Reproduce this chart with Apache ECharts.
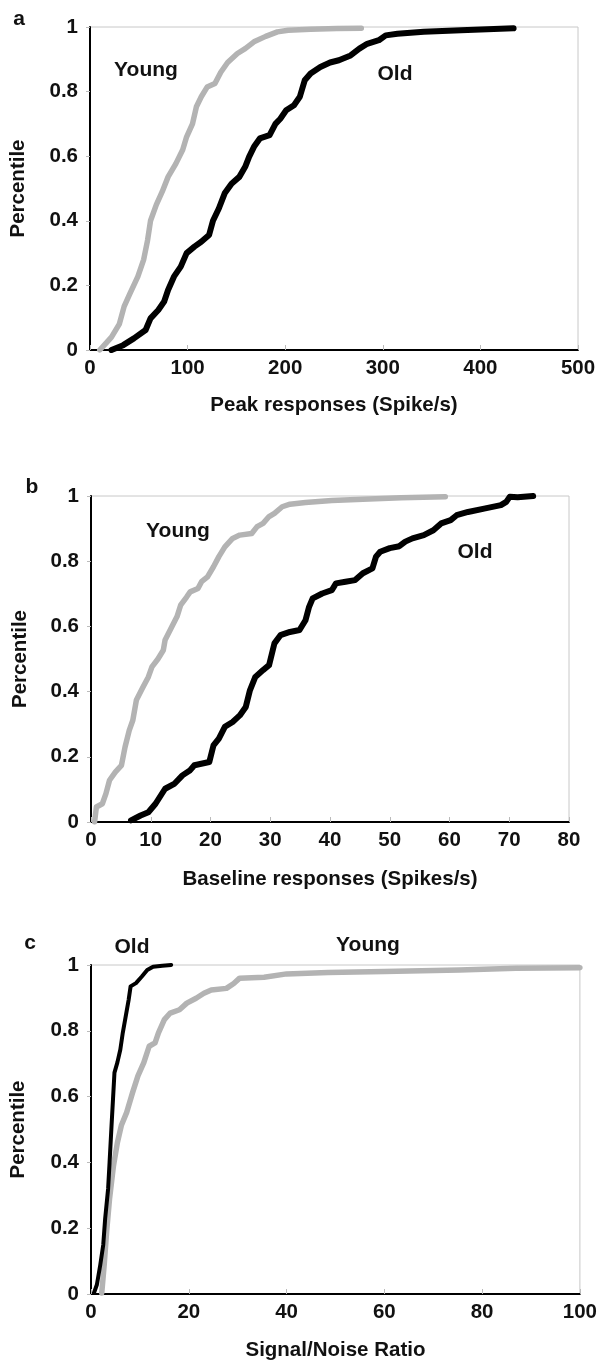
<!DOCTYPE html>
<html><head><meta charset="utf-8">
<script src="https://cdn.jsdelivr.net/npm/echarts@6/dist/echarts.min.js"></script>
<style>html,body{margin:0;padding:0;background:#fff}#c{width:600px;height:1362px}</style>
</head><body><div id="c"></div>
<script>
// ---- data (x value, cumulative fraction) ----
const peakYoung = [[10,0],[16,0.02],[22,0.04],[30,0.08],[35,0.135],[41,0.175],[49,0.227],[55,0.28],[59,0.34],[62,0.40],[68,0.45],[74,0.49],[80,0.536],[88,0.577],[95,0.62],[99,0.66],[105,0.70],[109,0.753],[114,0.784],[120,0.814],[128,0.825],[134,0.86],[141,0.89],[151,0.918],[159,0.933],[168,0.954],[180,0.971],[192,0.985],[203,0.99],[226,0.993],[253,0.995],[278,0.996]];
const peakOld = [[22,0],[34,0.015],[45,0.036],[57,0.062],[62,0.098],[70,0.124],[76,0.15],[80,0.186],[86,0.227],[93,0.258],[99,0.30],[107,0.32],[114,0.335],[122,0.356],[126,0.40],[132,0.438],[138,0.485],[145,0.515],[153,0.536],[159,0.567],[163,0.598],[168,0.629],[174,0.655],[184,0.665],[190,0.70],[195,0.716],[201,0.742],[209,0.758],[215,0.784],[220,0.835],[226,0.856],[236,0.876],[246,0.89],[255,0.897],[267,0.912],[276,0.933],[284,0.948],[296,0.959],[303,0.974],[315,0.979],[342,0.985],[380,0.99],[434,0.996]];
const baseYoung = [[0.6,0],[0.9,0.046],[1.9,0.056],[2.5,0.087],[3.1,0.128],[4.1,0.154],[5.1,0.174],[5.7,0.23],[6.4,0.281],[7.0,0.312],[7.6,0.374],[8.6,0.41],[9.6,0.445],[10.2,0.476],[11.2,0.50],[12.1,0.527],[12.4,0.558],[13.4,0.594],[14.4,0.63],[15.0,0.665],[16.0,0.69],[16.6,0.706],[17.9,0.716],[18.5,0.737],[19.5,0.752],[20.5,0.783],[21.4,0.814],[22.4,0.844],[23.7,0.87],[24.9,0.88],[26.9,0.885],[27.8,0.906],[28.8,0.916],[29.8,0.937],[30.7,0.947],[32.0,0.967],[33.3,0.975],[35.9,0.98],[40.3,0.986],[45.5,0.99],[51.9,0.995],[59.3,0.998]];
const baseOld = [[6.7,0.005],[8.3,0.02],[9.6,0.03],[10.8,0.056],[12.4,0.102],[14.0,0.118],[15.3,0.143],[16.6,0.159],[17.3,0.174],[19.8,0.184],[20.5,0.235],[21.4,0.256],[22.4,0.292],[23.7,0.307],[24.9,0.327],[25.9,0.353],[26.6,0.404],[27.5,0.445],[28.8,0.466],[29.8,0.481],[30.7,0.548],[31.7,0.573],[33.3,0.583],[34.9,0.589],[35.9,0.619],[36.5,0.66],[37.1,0.686],[38.7,0.701],[40.3,0.711],[41.0,0.732],[42.6,0.737],[44.2,0.742],[45.5,0.763],[47.1,0.778],[47.7,0.814],[48.4,0.829],[50.0,0.84],[51.6,0.846],[52.6,0.86],[53.8,0.87],[55.7,0.88],[57.3,0.895],[58.6,0.916],[60.2,0.926],[61.2,0.941],[63.1,0.951],[66.0,0.962],[68.6,0.972],[69.5,0.982],[70.1,0.998],[71.4,0.996],[74.0,1.0]];
const snrOld = [[0.6,0.003],[1.2,0.028],[1.9,0.089],[2.5,0.149],[2.9,0.23],[3.5,0.32],[3.8,0.40],[4.2,0.512],[4.5,0.592],[4.8,0.673],[5.4,0.704],[6.0,0.743],[6.5,0.794],[7.1,0.844],[7.7,0.894],[8.1,0.935],[9.2,0.945],[10.4,0.965],[11.5,0.985],[12.7,0.995],[14.6,0.998],[16.4,1.0]];
const snrYoung = [[2.2,0.003],[2.7,0.089],[3.2,0.19],[3.8,0.29],[4.6,0.39],[5.4,0.46],[6.2,0.512],[7.3,0.552],[8.5,0.612],[9.6,0.663],[10.8,0.703],[11.9,0.753],[13.1,0.763],[13.8,0.794],[15.0,0.834],[16.2,0.854],[18.1,0.864],[19.6,0.884],[21.5,0.899],[23.1,0.914],[24.6,0.924],[27.7,0.929],[29.2,0.944],[30.4,0.96],[35.4,0.963],[40.0,0.973],[48.5,0.977],[60.0,0.98],[75.4,0.985],[86.9,0.99],[100,0.992]];
const xTitles = ['Peak responses (Spike/s)','Baseline responses (Spikes/s)','Signal/Noise Ratio'];
const yTitle = 'Percentile';
const xMax = [500, 80, 100];
const xStep = [100, 10, 20];
const panelLetters = ['a','b','c'];

const FONT = '"Liberation Sans", Arial, sans-serif';
const grids = [
  {left:82, top:27, width:496, height:323},
  {left:91, top:496, width:478, height:326},
  {left:84, top:965, width:498, height:331}
];
const yGaps = [61, 60, 62];
const xGaps = [45, 47, 46];
const chart = echarts.init(document.getElementById('c'), null, {renderer:'canvas'});
const txt = {fontFamily:FONT, fontWeight:'bold', fontSize:20.5, color:'#111'};

const option = {
  animation:false,
  backgroundColor:'#fff',
  grid: grids.map(g => Object.assign({show:true, borderColor:'#c8c8c8', borderWidth:1, backgroundColor:'transparent'}, g)),
  xAxis: grids.map((g,i) => ({
    type:'value', gridIndex:i, min:0, max:xMax[i], interval:xStep[i],
    name:xTitles[i], nameLocation:'middle', nameGap:xGaps[i],
    nameTextStyle:Object.assign({}, txt),
    axisLine:{show:true, onZero:false, lineStyle:{color:'#000', width:2}},
    axisTick:{show:true, inside:true, length:5, lineStyle:{color:'#bbb', width:1}},
    axisLabel:Object.assign({margin:8}, txt),
    splitLine:{show:false}
  })),
  yAxis: grids.map((g,i) => ({
    type:'value', gridIndex:i, min:0, max:1, interval:0.2,
    name:yTitle, nameLocation:'middle', nameGap:yGaps[i],
    nameTextStyle:Object.assign({}, txt),
    axisLine:{show:true, onZero:false, lineStyle:{color:'#000', width:2}},
    axisTick:{show:true, inside:false, length:4, lineStyle:{color:'#bbb', width:1}},
    axisLabel:Object.assign({margin:12}, txt),
    splitLine:{show:false}
  })),
  series: [
    {data:peakYoung, idx:0, color:'#b3b3b3', w:5.5},
    {data:peakOld, idx:0, color:'#000', w:6},
    {data:baseYoung, idx:1, color:'#b3b3b3', w:5.5},
    {data:baseOld, idx:1, color:'#000', w:6},
    {data:snrYoung, idx:2, color:'#b3b3b3', w:5.5},
    {data:snrOld, idx:2, color:'#000', w:4}
  ].map(s => ({
    type:'line', xAxisIndex:s.idx, yAxisIndex:s.idx, data:s.data,
    showSymbol:false, symbol:'none', clip:true,
    lineStyle:{color:s.color, width:s.w, join:'round', cap:'round'}
  })),
  graphic: [
    {t:'a', x:19, y:19}, {t:'b', x:32, y:487}, {t:'c', x:30, y:943},
    {t:'Young', x:146, y:70}, {t:'Old', x:395, y:74},
    {t:'Young', x:178, y:531}, {t:'Old', x:475, y:552},
    {t:'Old', x:132, y:947}, {t:'Young', x:368, y:945}
  ].map(o => ({
    type:'text', x:o.x, y:o.y,
    style:{text:o.t, font:'bold 21px ' + FONT, fill:'#111', textAlign:'center', textVerticalAlign:'middle'}
  }))
};
chart.setOption(option);
</script></body></html>
